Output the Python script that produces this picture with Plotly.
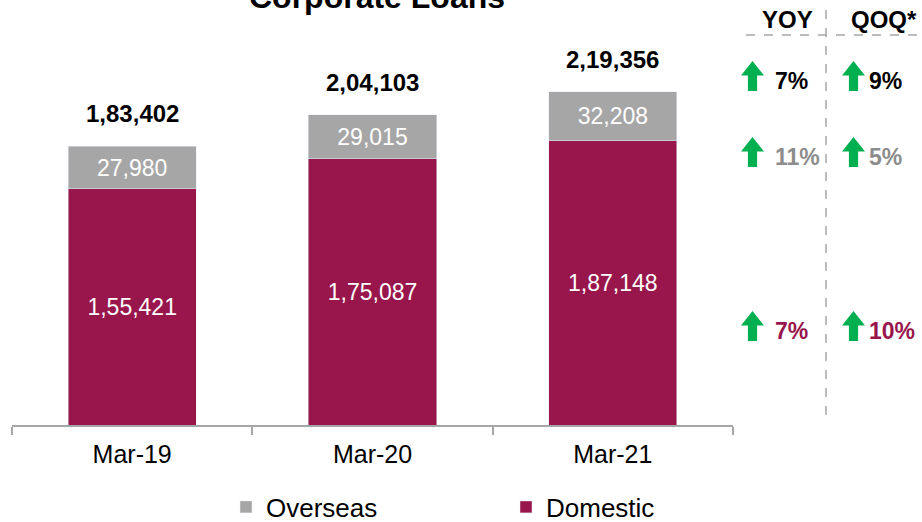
import plotly.graph_objects as go

FONT_FAMILY = "Arial, 'Liberation Sans', sans-serif"
MAROON = "#98164b"
GREY = "#a6a6a6"
GREEN = "#00b050"
GROWTH_GREY = "#8c8c8c"

periods = ["Mar-19", "Mar-20", "Mar-21"]
domestic = [155421, 175087, 187148]
overseas = [27980, 29015, 32208]
totals = [183402, 204103, 219356]

growth_headers = ["YOY", "QOQ*"]
growth_rows = [  # (yoy, qoq, colour) for Total, Overseas, Domestic
    ("7%", "9%", "#000000"),
    ("11%", "5%", GROWTH_GREY),
    ("7%", "10%", MAROON),
]

W, H = 922, 522
L, R, T, B = 12, 189, 30, 97
PW, PH = W - L - R, H - T - B


def inr(v):
    s = str(v)
    if len(s) <= 3:
        return s
    head, tail = s[:-3], s[-3:]
    groups = []
    while len(head) > 2:
        groups.insert(0, head[-2:])
        head = head[:-2]
    if head:
        groups.insert(0, head)
    return ",".join(groups) + "," + tail


def px(x):
    return (x - L) / PW


def py(y):
    return (H - B - y) / PH


def up_arrow(x0, y0, w=23, h=30):
    # x0, y0 = top-left pixel of arrow box
    head_h = h * 0.48
    shaft = w * 0.4
    cx = x0 + w / 2
    pts = [
        (cx, y0),
        (x0 + w, y0 + head_h),
        (cx + shaft / 2, y0 + head_h),
        (cx + shaft / 2, y0 + h),
        (cx - shaft / 2, y0 + h),
        (cx - shaft / 2, y0 + head_h),
        (x0, y0 + head_h),
    ]
    path = "M " + " L ".join(f"{px(a):.5f},{py(b):.5f}" for a, b in pts) + " Z"
    return dict(type="path", path=path, xref="paper", yref="paper",
                fillcolor=GREEN, line=dict(width=0), layer="above")


def note(x, y, text, size, color="black", xanchor="center"):
    return dict(x=px(x), y=py(y), xref="paper", yref="paper", xanchor=xanchor, yanchor="middle",
                text=text, showarrow=False, font=dict(size=size, color=color))


fig = go.Figure()
fig.add_trace(go.Bar(
    name="Domestic", x=periods, y=domestic, marker_color=MAROON,
    text=[inr(v) for v in domestic], textposition="inside", insidetextanchor="middle",
    textfont=dict(color="white", size=23), constraintext="none",
))
fig.add_trace(go.Bar(
    name="Overseas", x=periods, y=overseas, marker_color=GREY,
    text=[inr(v) for v in overseas], textposition="inside", insidetextanchor="middle",
    textfont=dict(color="white", size=23), constraintext="none",
))

annotations = []
for p, t in zip(periods, totals):
    annotations.append(dict(x=p, y=t, text=f"<b>{inr(t)}</b>", showarrow=False,
                            yanchor="bottom", yshift=17, font=dict(size=24, color="black")))

# title sits partly above the top edge, as in the source slide
annotations.append(note(377, -3, "<b>Corporate Loans</b>", 32))

for hdr, cx in zip(growth_headers, [787, 884]):
    annotations.append(note(cx, 19, f"<b>{hdr}</b>", 24))

shapes = [
    dict(type="line", xref="paper", yref="paper", x0=px(746), x1=px(922), y0=py(35), y1=py(35),
         line=dict(color=GREY, width=1.5, dash="dash")),
    dict(type="line", xref="paper", yref="paper", x0=px(826), x1=px(826), y0=py(10), y1=py(418),
         line=dict(color=GREY, width=1.5, dash="dash")),
]

row_y = [76, 152, 326]
for (yoy, qoq, col), ry in zip(growth_rows, row_y):
    shapes.append(up_arrow(741, ry - 15))
    shapes.append(up_arrow(842, ry - 15))
    annotations.append(note(773, ry + 5, f"<b>{yoy}</b>", 23, col, "left"))
    annotations.append(note(867, ry + 5, f"<b>{qoq}</b>", 23, col, "left"))

fig.update_layout(
    width=W, height=H,
    margin=dict(l=L, r=R, t=T, b=B, autoexpand=False),
    paper_bgcolor="white", plot_bgcolor="white",
    font=dict(family=FONT_FAMILY, color="black"),
    barmode="stack", bargap=0.467,
    xaxis=dict(showline=True, linecolor=GREY, linewidth=1.5, ticks="outside", tickson="boundaries",
               ticklen=8, tickcolor=GREY, tickwidth=1.5, tickfont=dict(size=25, color="black"),
               ticklabelstandoff=6, showgrid=False),
    yaxis=dict(visible=False, range=[0, PH * 658]),
    legend=dict(orientation="h", traceorder="reversed", x=px(226), xanchor="left",
                y=py(507), yanchor="middle", font=dict(size=26, color="black"),
                entrywidth=235, itemclick=False),
    annotations=annotations,
    shapes=shapes,
    showlegend=True,
)

fig.write_html("out.html", config={"displayModeBar": False},
               post_script="document.body.style.margin = '0';")
